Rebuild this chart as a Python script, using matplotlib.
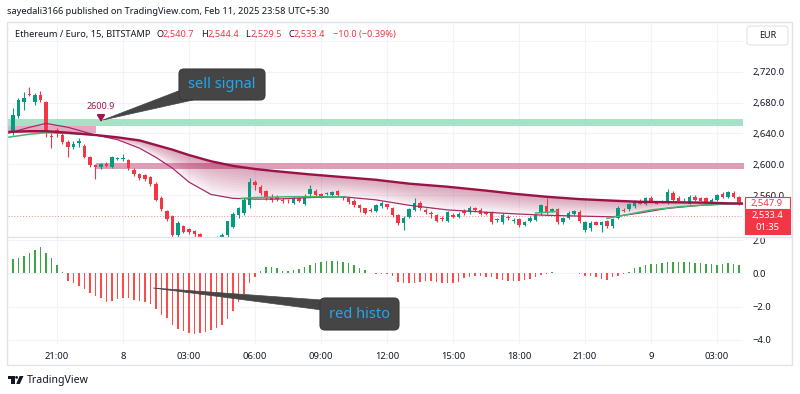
import numpy as np
import matplotlib
matplotlib.use("Agg")
import matplotlib.pyplot as plt
from matplotlib.patches import FancyBboxPatch, Polygon, Rectangle, Circle

plt.rcParams['font.family'] = ['Noto Sans', 'DejaVu Sans']

# ETH/EUR 15m candles
opens = [2642, 2662, 2681, 2691, 2681, 2690, 2681, 2637, 2645, 2638,
         2629, 2623, 2628, 2624, 2609, 2599, 2596, 2601, 2596, 2607,
         2607, 2605, 2593, 2587, 2586, 2584, 2575, 2557, 2539, 2533,
         2508, 2520, 2516, 2514, 2510, 2505, 2498, 2500, 2504, 2508,
         2519, 2534, 2537, 2547, 2577, 2571, 2565, 2557, 2558, 2554,
         2553, 2550, 2556, 2549, 2561, 2566, 2562, 2561, 2560, 2565,
         2558, 2556, 2553, 2547, 2543, 2541, 2540, 2546, 2548, 2543,
         2534, 2524, 2532, 2541, 2550, 2541, 2537, 2534, 2531, 2527,
         2535, 2532, 2540, 2538, 2543, 2541, 2538, 2537, 2528, 2525,
         2532, 2527, 2529, 2522, 2527, 2528, 2537, 2546, 2540, 2542,
         2525, 2531, 2536, 2538, 2515, 2517, 2525, 2522, 2527, 2520,
         2531, 2541, 2542, 2546, 2553, 2549, 2557, 2551, 2551, 2551,
         2563, 2557, 2555, 2549, 2558, 2557, 2557, 2550, 2554, 2562,
         2558, 2563, 2558]
highs = [2673, 2686, 2694, 2700, 2693, 2695, 2682, 2640, 2647, 2640,
         2631, 2630, 2634, 2626, 2611, 2601, 2602, 2603, 2611, 2610,
         2613, 2607, 2595, 2589, 2588, 2585, 2577, 2559, 2541, 2535,
         2527, 2522, 2518, 2515, 2511, 2506, 2504, 2507, 2511, 2527,
         2538, 2545, 2556, 2582, 2580, 2573, 2567, 2561, 2560, 2556,
         2555, 2559, 2558, 2561, 2573, 2568, 2563, 2564, 2566, 2567,
         2559, 2557, 2555, 2549, 2544, 2543, 2548, 2552, 2549, 2545,
         2536, 2533, 2543, 2556, 2552, 2543, 2539, 2536, 2533, 2540,
         2537, 2538, 2542, 2546, 2545, 2543, 2540, 2539, 2531, 2537,
         2534, 2530, 2531, 2527, 2533, 2536, 2549, 2556, 2544, 2544,
         2532, 2539, 2541, 2541, 2526, 2526, 2526, 2527, 2528, 2530,
         2546, 2543, 2550, 2554, 2555, 2558, 2559, 2552, 2554, 2568,
         2565, 2559, 2557, 2560, 2560, 2558, 2558, 2556, 2562, 2564,
         2566, 2565, 2559]
lows = [2638, 2660, 2670, 2688, 2677, 2681, 2635, 2621, 2636, 2626,
        2610, 2620, 2623, 2608, 2596, 2581, 2594, 2596, 2595, 2605,
        2604, 2593, 2585, 2580, 2578, 2572, 2552, 2540, 2526, 2500,
        2504, 2511, 2510, 2506, 2500, 2495, 2494, 2497, 2502, 2505,
        2517, 2531, 2535, 2544, 2567, 2560, 2554, 2551, 2553, 2550,
        2550, 2548, 2551, 2547, 2559, 2558, 2557, 2560, 2559, 2558,
        2554, 2549, 2545, 2538, 2536, 2538, 2538, 2544, 2542, 2532,
        2522, 2515, 2530, 2539, 2541, 2536, 2530, 2525, 2527, 2525,
        2530, 2530, 2535, 2536, 2539, 2534, 2534, 2523, 2525, 2523,
        2528, 2524, 2519, 2520, 2525, 2526, 2535, 2536, 2538, 2523,
        2523, 2529, 2534, 2524, 2513, 2514, 2521, 2512, 2518, 2518,
        2529, 2538, 2540, 2544, 2548, 2547, 2552, 2548, 2550, 2549,
        2553, 2552, 2553, 2548, 2553, 2552, 2550, 2549, 2553, 2557,
        2557, 2557, 2547]
closes = [2664, 2683, 2686, 2690, 2690, 2683, 2640, 2635, 2639, 2629,
          2623, 2627, 2630, 2610, 2599, 2597, 2600, 2598, 2610, 2608,
          2608, 2595, 2587, 2582, 2581, 2574, 2554, 2542, 2529, 2508,
          2524, 2513, 2513, 2510, 2505, 2500, 2503, 2506, 2508, 2526,
          2536, 2543, 2554, 2577, 2573, 2563, 2556, 2554, 2555, 2552,
          2552, 2557, 2553, 2559, 2568, 2560, 2558, 2563, 2564, 2560,
          2556, 2551, 2547, 2543, 2537, 2540, 2547, 2550, 2545, 2534,
          2524, 2531, 2542, 2550, 2543, 2538, 2536, 2527, 2529, 2538,
          2532, 2536, 2537, 2544, 2541, 2536, 2536, 2525, 2528, 2535,
          2530, 2527, 2521, 2525, 2531, 2534, 2547, 2538, 2542, 2525,
          2530, 2537, 2539, 2526, 2525, 2524, 2522, 2525, 2520, 2529,
          2544, 2539, 2548, 2552, 2549, 2556, 2553, 2549, 2553, 2564,
          2554, 2553, 2555.5, 2558, 2554, 2553, 2551, 2554, 2560, 2558,
          2564, 2558, 2548]

# histogram pane (one bar per candle)
histo = [0.84, 0.90, 1.04, 1.24, 1.40, 1.60, 1.24, 0.90, 0.50, 0.10,
         -0.44, -0.60, -0.76, -0.96, -1.16, -1.37, -1.51, -1.71, -1.65, -1.57,
         -1.51, -1.51, -1.61, -1.65, -1.71, -1.85, -2.17, -2.51, -2.71, -3.11,
         -3.37, -3.45, -3.61, -3.65, -3.57, -3.51, -3.41, -3.31, -3.11, -2.77,
         -2.25, -1.71, -1.24, -0.60, -0.20, 0.16, 0.36, 0.40, 0.30, 0.16,
         0.16, 0.20, 0.24, 0.36, 0.50, 0.60, 0.70, 0.76, 0.76, 0.76,
         0.70, 0.60, 0.50, 0.30, 0.20, 0.04, -0.04, -0.06, -0.06, -0.16,
         -0.50, -0.60, -0.60, -0.56, -0.50, -0.44, -0.44, -0.50, -0.60, -0.60,
         -0.56, -0.50, -0.30, -0.24, -0.16, -0.16, -0.20, -0.24, -0.36, -0.40,
         -0.44, -0.44, -0.44, -0.40, -0.36, -0.24, -0.10, -0.06, 0.06, 0.04,
         0.04, 0.02, 0.02, -0.06, -0.16, -0.16, -0.24, -0.36, -0.40, -0.24,
         -0.16, -0.06, 0.06, 0.30, 0.40, 0.50, 0.56, 0.56, 0.64, 0.68,
         0.68, 0.70, 0.70, 0.68, 0.64, 0.60, 0.56, 0.56, 0.50, 0.56,
         0.60, 0.56, 0.50]

# moving average lines, sampled at these bar indices
ma_idx = [-1, 3, 6, 10, 15, 19, 23, 26, 29, 32, 36, 40, 44, 48, 54, 60, 66,
          72, 79, 86, 91, 97, 103, 109, 114, 119, 125, 133]
ma_slow = [2642, 2643, 2643, 2641, 2638, 2635, 2631, 2625, 2619, 2612, 2604,
           2598, 2594, 2591, 2587, 2583.5, 2580, 2575, 2571, 2566, 2562, 2558,
           2555, 2553, 2551.5, 2551, 2550.5, 2549]
ma_fast = [2640, 2648, 2653, 2648, 2638, 2632, 2621, 2609, 2595, 2577, 2561,
           2556, 2555, 2555, 2557, 2558, 2554, 2547, 2541, 2538, 2536, 2534,
           2533, 2532, 2537, 2543, 2547, 2549.5]
green_segs = [
    ([-1, 3, 6, 10, 15], [2635, 2639, 2641, 2640, 2638]),
    ([41.5, 44, 50, 55, 60], [2556, 2557, 2558, 2558, 2558]),
    ([95, 99], [2537, 2539]),
    ([108, 111, 116, 121, 125, 132.5], [2530, 2534, 2541, 2545, 2547, 2550]),
]

time_pos = [8, 20, 32, 44, 56, 68, 80, 92, 104, 116, 128]
time_labels = ["21:00", "8", "03:00", "06:00", "09:00", "12:00", "15:00",
               "18:00", "21:00", "9", "03:00"]
price_ticks = [2560, 2600, 2640, 2680, 2720, 2760]
hist_ticks = [2, 0, -2, -4]

UP, DOWN = '#089981', '#f23645'
GRID = '#f0f3fa'
TXT = '#131722'
CRIMSON = '#9b1247'

W, H = 800, 394
fig = plt.figure(figsize=(8, 3.94), dpi=100)


def px_axes(x0, y0, x1, y1, **kw):
    return fig.add_axes([x0 / W, 1 - y1 / H, (x1 - x0) / W, (y1 - y0) / H], **kw)


ax = px_axes(8, 22, 743, 237)
axh = px_axes(8, 237, 743, 345, sharex=ax)

x = np.arange(len(opens))
o = np.array(opens, float)
c = np.array(closes, float)
up = c >= o
cols = np.where(up, UP, DOWN)

# bands / zones
ax.axhspan(2649.7, 2658.7, color='#a6e3c6', zorder=1, lw=0)
ax.fill_between([-0.9, 15.1], 2640.2, 2649.6, color='#d98dab', alpha=0.75, zorder=1, lw=0)
ax.fill_between([15.1, 140], 2593.6, 2602, color='#d98dab', alpha=0.85, zorder=1, lw=0)

# candles
ax.vlines(x, lows, highs, colors=cols, lw=0.8, zorder=3)
body = np.maximum(np.abs(c - o), 0.7)
ax.bar(x, body, bottom=np.minimum(o, c), width=0.7, color=cols, zorder=3, lw=0)

# gradient fill between the two averages
mi = np.array(ma_idx, float)
ms = np.array(ma_slow)
mf = np.array(ma_fast)
m = mi >= 15
for t in np.linspace(0.08, 1, 12):
    ax.fill_between(mi[m], ms[m], ms[m] + (mf[m] - ms[m]) * t,
                    color='#a3174f', alpha=0.035, lw=0, zorder=2)

ax.plot(mi, mf, color='#a8286a', lw=0.9, zorder=4)
for gx, gy in green_segs:
    ax.plot(gx, gy, color='#3fba6a', lw=1.1, zorder=4)
ax.plot(mi, ms, color=CRIMSON, lw=1.7, zorder=5)

ax.axhline(2533.4, color='#f23645', lw=0.7, ls=(0, (1, 2)), alpha=0.6, zorder=2)

# sell signal marker
ax.annotate('', xy=(16, 2651.5), xytext=(16, 2662),
            arrowprops=dict(arrowstyle='-|>,head_width=0.22,head_length=0.35',
                            color='#a3164c', lw=1.5), zorder=6)
ax.text(16, 2674.5, '2600.9', color='#a3164c', fontsize=6.5, ha='center', va='center', zorder=6)

ax.set_xlim(-0.909, 132.727)
ax.set_ylim(2505.9, 2784.4)
ax.set_yticks(price_ticks)
ax.set_yticklabels([f"{p:,.1f}" if p < 2750 else "" for p in price_ticks])
ax.yaxis.tick_right()
ax.tick_params(axis='y', length=0, pad=7, labelsize=6.8, labelcolor=TXT)
ax.set_xticks(time_pos)
ax.tick_params(axis='x', length=0, labelbottom=False)
ax.grid(color=GRID, lw=0.8)
ax.set_axisbelow(True)
for s in ax.spines.values():
    s.set_visible(False)

# histogram
hv = np.array(histo)
axh.bar(x, hv, width=0.32, color=np.where(hv >= 0, '#3da644', '#ff4a4a'), lw=0, zorder=3)
axh.set_ylim(-4.319, 2.187)
axh.set_yticks(hist_ticks)
axh.set_yticklabels([f"{v:.1f}".replace('-', '\u2212') for v in hist_ticks])
axh.yaxis.tick_right()
axh.tick_params(axis='y', length=0, pad=7, labelsize=6.8, labelcolor=TXT)
axh.set_xticks(time_pos)
axh.set_xticklabels(time_labels)
axh.tick_params(axis='x', length=0, pad=5, labelsize=6.8, labelcolor=TXT)
axh.grid(color=GRID, lw=0.8)
axh.set_axisbelow(True)
for s in axh.spines.values():
    s.set_visible(False)

# overlay in pixel coordinates for header, frame and drawings
ov = fig.add_axes([0, 0, 1, 1], zorder=10)
ov.set_xlim(0, W)
ov.set_ylim(H, 0)
ov.axis('off')
ov.patch.set_alpha(0)

ov.text(7, 11, 'sayedali3166 published on TradingView.com, Feb 11, 2025 23:58 UTC+5:30',
        fontsize=6.65, color=TXT, va='center', ha='left', fontweight='medium')
ov.add_patch(Rectangle((7, 21.5), 784.5, 343.5, fill=False, ec='#e0e3eb', lw=1))
ov.plot([7, 791.5], [237, 237], color='#e0e3eb', lw=1)

sym_y = 34
ov.text(15, sym_y, 'Ethereum / Euro, 15, BITSTAMP', fontsize=6.6, color=TXT, va='center')
for lx, lab, vx, val in [(156.5, 'O', 162.5, '2,540.7'), (201.5, 'H', 207.5, '2,544.4'),
                         (245.5, 'L', 250.5, '2,529.5'), (288.5, 'C', 294, '2,533.4')]:
    ov.text(lx, sym_y, lab, fontsize=6.6, color=TXT, va='center')
    ov.text(vx, sym_y, val, fontsize=6.6, color='#f23645', va='center')
ov.text(333, sym_y, '\u221210.0 (\u22120.39%)', fontsize=6.6, color='#f23645', va='center')

ov.add_patch(FancyBboxPatch((747, 26), 41, 19, boxstyle='round,pad=0,rounding_size=3',
                            fc='white', ec='#e0e3eb', lw=0.8))
ov.text(767.5, 35.5, 'EUR', fontsize=6.5, color=TXT, ha='center', va='center')

# last value labels
ov.add_patch(Rectangle((744.5, 197), 45, 12, fc='white', ec='#f23645', lw=0.8))
ov.text(767, 203.2, '2,547.9', fontsize=6.8, color='#f23645', ha='center', va='center')
ov.add_patch(Rectangle((744.5, 209.5), 45, 24.5, fc='#f23645', ec='#f23645', lw=0.8))
ov.text(767, 215.8, '2,533.4', fontsize=6.8, color='white', ha='center', va='center')
ov.text(767, 227.5, '01:35', fontsize=6.8, color='white', ha='center', va='center')

# callouts
BOX = '#454545'
ov.add_patch(Polygon([(103, 120), (181, 90), (193, 100)], closed=True, fc=BOX, ec=BOX, lw=0.5))
ov.add_patch(FancyBboxPatch((179, 69), 86, 31, boxstyle='round,pad=0,rounding_size=5',
                            fc=BOX, ec='#3a3a3a', lw=0.8))
ov.text(222, 84.5, 'sell signal', fontsize=10.5, color='#22a7f0', ha='center', va='center')

ov.add_patch(Polygon([(153, 288), (322, 300), (322, 310)], closed=True, fc=BOX, ec=BOX, lw=0.5))
ov.add_patch(FancyBboxPatch((320, 298), 79, 32, boxstyle='round,pad=0,rounding_size=5',
                            fc=BOX, ec='#3a3a3a', lw=0.8))
ov.text(359.5, 314, 'red histo', fontsize=10.5, color='#22a7f0', ha='center', va='center')

# TradingView logo
ov.add_patch(Rectangle((8, 376), 6.5, 2.6, fc=TXT, ec='none'))
ov.add_patch(Rectangle((11.3, 376), 3.2, 8, fc=TXT, ec='none'))
ov.add_patch(Circle((16.6, 377.4), 1.4, fc=TXT, ec='none'))
ov.add_patch(Polygon([(19.6, 376), (23.5, 376), (19.8, 384), (16.2, 384)], closed=True, fc=TXT, ec='none'))
ov.text(27, 380.5, 'TradingView', fontsize=7.6, color=TXT, va='center', ha='left')

fig.savefig('out.png', dpi=100, facecolor='white')
